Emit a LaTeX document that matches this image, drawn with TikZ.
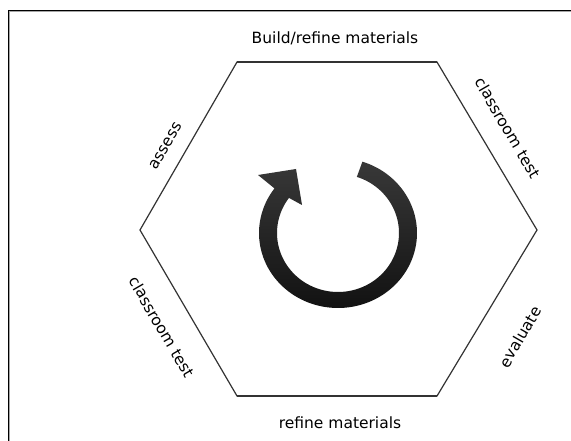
\documentclass[tikz,border=0pt]{standalone}
\usepackage{fontspec}
\setmainfont{DejaVu Sans}
\begin{document}
\begin{tikzpicture}[x=1pt,y=-1pt,
  lbl/.style={font=\fontsize{15.5}{18}\selectfont, inner sep=0pt, text=black},
  hexedge/.style={draw=black!80, line width=1.2pt, line join=miter},
  hexflat/.style={draw=black!80, line width=1.8pt},
  frameline/.style={draw=black, line width=1pt},
  frameshadow/.style={draw=black!35, line width=1pt}]
\useasboundingbox (0,0) rectangle (571,441);
\fill[white] (0,0) rectangle (571,441);
% window frame
\draw[frameshadow] (9.5,441) -- (9.5,11.5) -- (571,11.5);
\draw[frameline] (8.5,441) -- (8.5,10.5) -- (571,10.5);
% hexagon corners
\coordinate (tl) at (237,62);
\coordinate (tr) at (437,62);
\coordinate (rr) at (537,230);
\coordinate (br) at (437,396);
\coordinate (bl) at (237,396);
\coordinate (ll) at (140,230);
\draw[hexedge] (tl) -- (tr) -- (rr) -- (br) -- (bl) -- (ll) -- cycle;
\draw[hexflat] (tl) -- (tr);
\draw[hexflat] (bl) -- (br);
% labels
\node[lbl, anchor=base] (top) at (335,44) {Build/refine materials};
\node[lbl] (bottom) at (340,423) {refine materials};
\node[lbl, rotate=60] (assess) at (166,146) {assess};
\node[lbl, rotate=-60] (ctest1) at (508,128) {classroom test};
\node[lbl, rotate=-60] (ctest2) at (162,327) {classroom test};
\node[lbl, rotate=60] (evaluate) at (520,337) {evaluate};
% circular arrow
\coordinate (barbout) at (258,175);
\coordinate (tip) at (296,169);
\coordinate (barbin) at (302,205);
\shade[top color=black!78, bottom color=black!93]
  plot[domain=-72:216.5, samples=100] ({338+79*cos(\x)},{233+75*sin(\x)})
  -- (barbout) -- (tip) -- (barbin)
  -- plot[domain=216.5:-72, samples=100] ({338+61*cos(\x)},{233+59*sin(\x)})
  -- cycle;
\end{tikzpicture}
\end{document}
